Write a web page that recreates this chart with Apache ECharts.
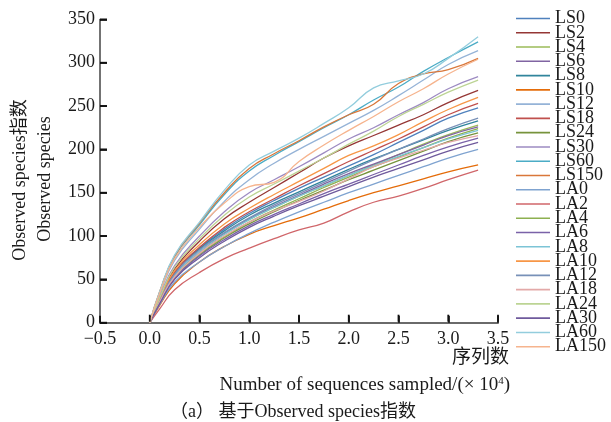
<!DOCTYPE html>
<html>
<head>
<meta charset="utf-8">
<script src="https://cdn.jsdelivr.net/npm/echarts@6/dist/echarts.min.js"></script>
<style>html,body{margin:0;padding:0;background:#fff}#c{width:611px;height:422px}</style>
</head>
<body>
<div id="c"></div>
<script>
// sequences sampled (x 10^4)
var xs = [0, 0.1, 0.25, 0.5, 0.75, 1.0, 1.25, 1.5, 1.75, 2.0, 2.25, 2.5, 2.75, 3.0, 3.3];
var names = ['LS0','LS2','LS4','LS6','LS8','LS10','LS12','LS18','LS24','LS30','LS60','LS150',
             'LA0','LA2','LA4','LA6','LA8','LA10','LA12','LA18','LA24','LA30','LA60','LA150'];
var colors = ['#4F81BD','#953735','#9BBB59','#8064A2','#31859C','#E46C0A','#95B3D7','#C0504D','#77933C','#9D8BC2','#4BACC6','#D9773A',
              '#7FA3D0','#D0666A','#8DB050','#7A62A8','#7CC4D6','#F79646','#7891B8','#E3A9A8','#BCD494','#6F5A9C','#93CDDD','#F6B48E'];
var LS0   = [0, 26, 58, 86, 108, 126, 141, 155, 168, 181, 194, 208, 222, 236, 248];
var LS2   = [0, 28, 62, 94, 120, 139, 156, 173, 190, 204, 216, 228, 240, 254, 268];
var LS4   = [0, 24, 54, 81, 102, 119, 133, 146, 158, 170, 182, 194, 206, 217, 228];
var LS6   = [0, 25, 55, 82, 103, 120, 134, 147, 160, 172, 183, 194, 205, 216, 226];
var LS8   = [0, 26, 57, 85, 106, 124, 138, 151, 164, 177, 189, 200, 211, 222, 233];
var LS10  = [0, 20, 45, 70, 88, 102, 112, 121, 131, 141, 150, 158, 166, 174, 182];
var LS12  = [0, 33, 72, 108, 140, 165, 184, 200, 215, 230, 245, 262, 280, 298, 314];
var LS18  = [0, 26, 58, 87, 110, 128, 143, 158, 172, 186, 199, 212, 226, 240, 253];
var LS24  = [0, 23, 52, 78, 98, 114, 128, 141, 153, 165, 176, 187, 198, 209, 219];
var LS30  = [0, 30, 66, 100, 128, 150, 165, 180, 196, 212, 225, 240, 254, 270, 284];
var LS60  = [0, 35, 76, 113, 148, 175, 193, 209, 225, 240, 257, 272, 290, 306, 324];
var LS150 = [0, 36, 77, 115, 150, 178, 195, 210, 226, 240, 252, 276, 287, 292, 305];
var LA0   = [0, 21, 47, 70, 88, 103, 116, 128, 139, 150, 160, 170, 180, 190, 200];
var LA2   = [0, 16, 38, 58, 74, 86, 97, 107, 115, 128, 139, 146, 155, 165, 176];
var LA4   = [0, 24, 53, 79, 99, 116, 130, 143, 156, 168, 180, 191, 202, 213, 224];
var LA6   = [0, 23, 51, 77, 96, 112, 125, 137, 149, 160, 171, 182, 193, 203, 213];
var LA8   = [0, 25, 55, 82, 102, 119, 133, 146, 158, 170, 181, 192, 202, 212, 222];
var LA10  = [0, 27, 60, 90, 114, 132, 148, 163, 178, 193, 204, 217, 232, 246, 260];
var LA12  = [0, 25, 56, 84, 104, 121, 136, 149, 162, 175, 188, 200, 212, 224, 236];
var LA18  = [0, 24, 53, 80, 100, 116, 129, 140, 152, 166, 180, 190, 199, 208, 216];
var LA24  = [0, 29, 64, 97, 124, 145, 160, 175, 190, 206, 221, 238, 252, 266, 280];
var LA30  = [0, 22, 50, 75, 94, 110, 123, 135, 146, 157, 168, 178, 188, 198, 208];
var LA60  = [0, 36, 78, 116, 153, 182, 198, 213, 230, 248, 271, 279, 287, 305, 330];
var LA150 = [0, 34, 74, 110, 138, 157, 162, 186, 205, 222, 238, 255, 270, 287, 304];
var values = [LS0, LS2, LS4, LS6, LS8, LS10, LS12, LS18, LS24, LS30, LS60, LS150,
              LA0, LA2, LA4, LA6, LA8, LA10, LA12, LA18, LA24, LA30, LA60, LA150];
var yTicks = [0, 50, 100, 150, 200, 250, 300, 350];
var xTicks = [0.0, 0.5, 1.0, 1.5, 2.0, 2.5, 3.0, 3.5];

var FONT = '"Liberation Serif", "Noto Sans CJK SC", serif';
var chart = echarts.init(document.getElementById('c'), null, {renderer: 'canvas'});
var series = names.map(function (n, k) {
  return {
    name: n, type: 'line', symbol: 'none', showSymbol: false, smooth: 0.5,
    lineStyle: {width: 1.3, color: colors[k]}, itemStyle: {color: colors[k]},
    data: xs.map(function (x, i) { return [x, values[k][i]]; })
  };
});
var texts = [
  {type: 'text', x: 20, y: 180, rotation: Math.PI / 2,
    style: {text: 'Observed species指数', font: '18px ' + FONT, fill: '#1a1a1a', textAlign: 'center', textVerticalAlign: 'middle'}},
  {type: 'text', x: 45, y: 179, rotation: Math.PI / 2,
    style: {text: 'Observed species', font: '18px ' + FONT, fill: '#1a1a1a', textAlign: 'center', textVerticalAlign: 'middle'}},
  {type: 'text', x: 509, y: 358,
    style: {text: '序列数', font: '19px ' + FONT, fill: '#1a1a1a', textAlign: 'right', textVerticalAlign: 'middle'}},
  {type: 'text', x: 510, y: 385,
    style: {text: 'Number of sequences sampled/(× 10{s|4})', font: '19px ' + FONT, fill: '#1a1a1a', textAlign: 'right', textVerticalAlign: 'middle',
      rich: {s: {fontSize: 11, fontFamily: FONT, verticalAlign: 'top', padding: [0, 0, 7, 0]}}}},
  {type: 'text', x: 293, y: 412,
    style: {text: '（a） 基于Observed species指数', font: '18px ' + FONT, fill: '#1a1a1a', textAlign: 'center', textVerticalAlign: 'middle'}}
];
chart.setOption({
  animation: false,
  backgroundColor: '#fff',
  grid: {left: 100, right: 113, top: 19.4, bottom: 99.3},
  legend: {
    orient: 'vertical', left: 516, top: 9.5, padding: 0, itemWidth: 34, itemHeight: 1.6, itemGap: -3.73,
    icon: 'rect',
    textStyle: {fontFamily: FONT, fontSize: 18, color: '#1a1a1a'},
    data: names.map(function (n, k) { return {name: n, itemStyle: {color: colors[k]}}; })
  },
  xAxis: {
    type: 'value', min: -0.5, max: 3.5, interval: 0.5,
    axisLine: {show: true, onZero: false, lineStyle: {color: '#6a6a6a', width: 2}},
    axisTick: {show: true, inside: true, length: 7, lineStyle: {color: '#000', width: 1.6}},
    splitLine: {show: false},
    axisLabel: {fontFamily: FONT, fontSize: 18, color: '#1a1a1a', margin: 8,
      formatter: function (v) { var s = Math.abs(v).toFixed(1); return v < 0 ? '\u2212' + s : s; }}
  },
  yAxis: {
    type: 'value', min: yTicks[0], max: yTicks[yTicks.length - 1], interval: 50,
    axisLine: {show: true, onZero: false, lineStyle: {color: '#444', width: 1.5}},
    axisTick: {show: true, inside: true, length: 7, lineStyle: {color: '#000', width: 1.6}},
    splitLine: {show: false},
    axisLabel: {fontFamily: FONT, fontSize: 18, color: '#1a1a1a', margin: 5}
  },
  graphic: texts,
  series: series
});
// tick marks placed through the chart's own scales, drawn as thin filled rectangles
var TL = 7;
var ticks = [];
yTicks.forEach(function (v) {
  var p = chart.convertToPixel({gridIndex: 0}, [-0.5, v]);
  if (p) ticks.push({type: 'rect', z: 100, silent: true,
    shape: {x: p[0], y: p[1] - 0.9, width: TL, height: 1.8}, style: {fill: '#111'}});
});
xTicks.forEach(function (v) {
  var p = chart.convertToPixel({gridIndex: 0}, [v, 0]);
  if (p) ticks.push({type: 'rect', z: 100, silent: true,
    shape: {x: p[0] - 0.9, y: p[1] - 1 - TL, width: 1.8, height: TL}, style: {fill: '#111'}});
});
chart.setOption({graphic: texts.concat(ticks)});
</script>
</body>
</html>
